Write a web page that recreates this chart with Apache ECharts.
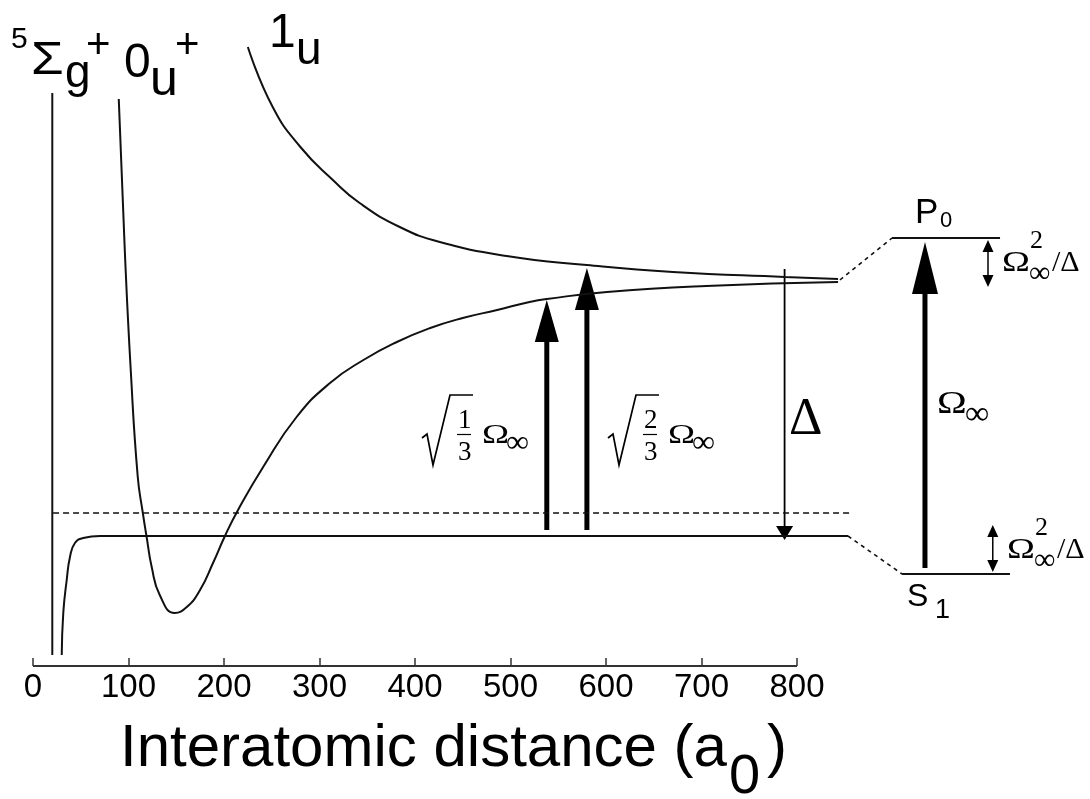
<!DOCTYPE html>
<html>
<head>
<meta charset="utf-8">
<script src="https://cdn.jsdelivr.net/npm/echarts@6/dist/echarts.min.js"></script>
<style>
  html, body { margin: 0; padding: 0; background: #ffffff; }
  #chart { width: 1090px; height: 799px; }
</style>
</head>
<body>
<div id="chart"></div>
<script>
// Interatomic distance (a0) vs. energy (arbitrary units, hidden axis)

const xTicks = [0, 100, 200, 300, 400, 500, 600, 700, 800];
const axisBaseline = [[0, 0], [800, 0]];

// 5Σg+ : hard inner wall and the well rising to the S1 asymptote
const sigmaWall = [[20.2, 57.3], [20.2, 1.1]];
const sigmaWell = [[30.1, 1.1], [31.7, 5.3], [35.3, 8.6], [38.7, 10.9], [43.9, 12.3],
                   [52.6, 12.8], [70.2, 13.0], [853.4, 13.0]];

// 0u+ : attractive excited state
const state0u = [[89.8, 56.7], [96.1, 41.6], [102.4, 29.5], [109.7, 18.9], [115, 15.3],
                 [119, 12.9], [124.3, 9.9], [132.7, 7.1], [148.4, 5.3], [161, 5.9],
                 [174.9, 7.6], [188.5, 10.3], [201, 13.0], [214.7, 15.6], [241, 19.9],
                 [276, 24.9], [311, 28.3], [346, 30.6], [381, 32.4], [416, 33.8],
                 [450, 34.8], [486, 35.6], [520, 36.4], [538, 36.7], [601, 37.4],
                 [705, 38.0], [843, 38.4]];

// 1u : repulsive excited state
const state1u = [[225, 61.9], [251, 55.9], [280, 51.9], [314, 48.6], [342, 46.3], [384, 43.9],
                 [426, 42.4], [496, 41.0], [580, 40.1], [670, 39.4], [787, 38.9], [843, 38.7]];

// dressed ground level (dashed)
const dressedLevel = [[21, 15.3], [857, 15.3]];

// atomic levels and their links to the molecular asymptotes
const levelS1 = [[910, 9.2], [1023, 9.2]];
const levelP0 = [[899.5, 42.8], [1012.6, 42.8]];
const linkS1 = [[853.4, 13.0], [910, 9.2]];
const linkP0 = [[845, 38.6], [899.5, 42.8]];

// arrows: [x, from, to]
const couplingArrows = [[538, 13.6, 36.6], [580, 13.6, 39.8]];
const detuningArrow = [[787, 39.7, 12.6]];
const rabiArrow = [[934, 9.8, 42.4]];
const shiftArrows = [[1000, 37.9, 42.6], [1005, 9.4, 14.1]];

const SANS = "'Liberation Sans', Arial, Helvetica, sans-serif";
const SERIF = "'Liberation Serif', 'Times New Roman', serif";

function curve(data, extra) {
  return Object.assign({
    type: 'line', data: data, showSymbol: false, clip: false, silent: true,
    lineStyle: { color: '#111', width: 2 }, smooth: 0.5
  }, extra || {});
}

function arrowSeries(data, opt) {
  return {
    type: 'custom', data: data, clip: false, silent: true,
    renderItem: function (params, api) {
      const x = api.value(0);
      const a = api.coord([x, api.value(1)]);
      const b = api.coord([x, api.value(2)]);
      const dir = b[1] > a[1] ? 1 : -1;
      const hl = opt.headLen, hw = opt.headWidth / 2;
      const children = [];
      let y0 = a[1], y1 = b[1] - dir * hl;
      if (opt.both) y0 = a[1] + dir * hl;
      children.push({
        type: 'line',
        shape: { x1: a[0], y1: y0, x2: b[0], y2: y1 },
        style: { stroke: '#000', lineWidth: opt.width }
      });
      children.push({
        type: 'polygon',
        shape: { points: [[b[0], b[1]], [b[0] - hw, b[1] - dir * hl], [b[0] + hw, b[1] - dir * hl]] },
        style: { fill: '#000' }
      });
      if (opt.both) {
        children.push({
          type: 'polygon',
          shape: { points: [[a[0], a[1]], [a[0] - hw, a[1] + dir * hl], [a[0] + hw, a[1] + dir * hl]] },
          style: { fill: '#000' }
        });
      }
      return { type: 'group', children: children };
    }
  };
}

// text placed by left edge and baseline
function txt(s, left, baseline, size, family, sx) {
  const el = {
    type: 'text', silent: true,
    x: left, y: baseline - 0.34 * size,
    style: {
      text: s, x: 0, y: 0,
      font: size + 'px ' + family, fill: '#000',
      textAlign: 'left', textVerticalAlign: 'middle', align: 'left', verticalAlign: 'middle'
    }
  };
  if (sx) el.scaleX = sx;
  return el;
}
// infinity sign placed by left edge and visual centre
function inf(left, centre, size) {
  return txt('\u221E', left, centre + 0.25 * size, size, SERIF);
}
function rule(x1, y1, x2, y2, w) {
  return { type: 'line', silent: true, shape: { x1: x1, y1: y1, x2: x2, y2: y2 }, style: { stroke: '#000', lineWidth: w } };
}
function sqrtLabel(dx, num) {
  return [
    { type: 'polyline', silent: true,
      shape: { points: [[422 + dx, 438], [427 + dx, 434], [433 + dx, 465], [450 + dx, 395], [473 + dx, 395]] },
      style: { stroke: '#000', lineWidth: 1.7, fill: null } },
    txt(num, 458 + dx, 430, 27, SERIF),
    rule(457 + dx, 434.5, 471 + dx, 434.5, 1.2),
    txt('3', 458 + dx, 462, 27, SERIF),
    txt('\u03A9', 482 + dx, 445, 28, SERIF, 1.3),
    inf(506 + dx, 446, 32)
  ];
}
function shiftLabel(left, base) {
  return [
    txt('\u03A9', left, base, 30, SERIF, 1.25),
    txt('2', left + 28, base - 23, 26, SERIF),
    inf(left + 27, base + 4, 30),
    txt('/\u0394', left + 50, base, 30, SERIF)
  ];
}

const labels = [].concat(
  // state names
  txt('5', 11, 50, 30, SANS),
  txt('\u03A3', 31, 77, 46, SANS, 1.15),
  txt('g', 65, 90, 46, SANS),
  txt('+', 86, 61, 42, SANS),
  txt('0', 124, 80, 48, SANS),
  txt('u', 150, 98, 50, SANS),
  txt('+', 175, 61, 42, SANS),
  txt('1', 269, 50, 48, SANS),
  txt('u', 296, 67, 46, SANS),
  // axis title
  txt('Interatomic distance (a', 120, 770, 60, SANS),
  txt('0', 729, 797, 56, SANS),
  txt(')', 767, 770, 60, SANS),
  // atomic levels
  txt('P', 915, 225, 35, SANS),
  txt('0', 940, 228, 22, SANS),
  txt('S', 907, 608, 32, SANS),
  txt('1', 935, 620, 27, SANS),
  // couplings
  sqrtLabel(0, '1'),
  sqrtLabel(186, '2'),
  txt('\u0394', 789, 438, 52, SERIF),
  txt('\u03A9', 937, 415, 32, SERIF, 1.25),
  inf(965, 418.5, 34),
  shiftLabel(1002, 273),
  shiftLabel(1007, 560)
);

const chart = echarts.init(document.getElementById('chart'), null, { renderer: 'canvas' });
chart.setOption({
  animation: false,
  backgroundColor: '#ffffff',
  // 0..800 spans 764 px; the axis continues (undrawn) to hold the atomic levels
  grid: { left: 33, right: 6.5, top: 16, bottom: 133, containLabel: false },
  xAxis: {
    type: 'value', min: 0, max: 1100, interval: 100,
    axisLine: { show: false },
    axisTick: { show: true, inside: true, length: 8, customValues: xTicks,
                lineStyle: { color: '#333', width: 1.5 } },
    axisLabel: { color: '#000', fontSize: 33, fontFamily: SANS, margin: 5, customValues: xTicks,
                 formatter: function (v) { return v <= 800 ? String(v) : ''; } },
    splitLine: { show: false }
  },
  yAxis: { type: 'value', min: 0, max: 65, show: false, splitLine: { show: false } },
  series: [
    curve(axisBaseline, { smooth: false, lineStyle: { color: '#333', width: 2 } }),
    curve(sigmaWall, { smooth: false }),
    curve(sigmaWell),
    curve(state0u),
    curve(state1u),
    curve(dressedLevel, { smooth: false, lineStyle: { color: '#111', width: 1.6, type: [6, 4] } }),
    curve(levelS1, { smooth: false }),
    curve(levelP0, { smooth: false }),
    curve(linkS1, { smooth: false, lineStyle: { color: '#111', width: 1.6, type: [4, 4] } }),
    curve(linkP0, { smooth: false, lineStyle: { color: '#111', width: 1.6, type: [4, 4] } }),
    arrowSeries(couplingArrows, { width: 5, headLen: 42, headWidth: 24 }),
    arrowSeries(rabiArrow, { width: 5, headLen: 52, headWidth: 26 }),
    arrowSeries(detuningArrow, { width: 1.8, headLen: 14, headWidth: 17 }),
    arrowSeries(shiftArrows, { width: 1.5, headLen: 12, headWidth: 11, both: true })
  ],
  graphic: { elements: labels }
});
</script>
</body>
</html>
